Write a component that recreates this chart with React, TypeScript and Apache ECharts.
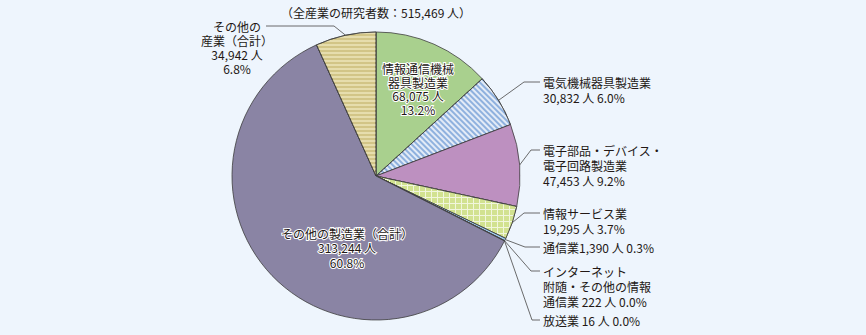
import React, { useEffect, useRef } from 'react';
import * as echarts from 'echarts';

const categories = [
  '情報通信機械器具製造業',
  '電気機械器具製造業',
  '電子部品・デバイス・電子回路製造業',
  '情報サービス業',
  '通信業',
  'インターネット附随・その他の情報通信業',
  '放送業',
  'その他の製造業（合計）',
  'その他の産業（合計）',
];
const labelNames = [
  '情報通信機械\n器具製造業',
  '電気機械器具製造業',
  '電子部品・デバイス・\n電子回路製造業',
  '情報サービス業',
  '通信業',
  'インターネット\n附随・その他の情報\n通信業',
  '放送業',
  'その他の製造業（合計）',
  'その他の\n産業（合計）',
];
const researchers = [68075, 30832, 47453, 19295, 1390, 222, 16, 313244, 34942];
const nameSeparators = ['\n', '\n', '\n', '\n', '', ' ', ' ', '\n', '\n'];
const pctSeparators = ['\n', ' ', ' ', ' ', ' ', ' ', ' ', '\n', '\n'];

const FONT = '"Noto Sans CJK JP", "Noto Sans", sans-serif';
const TEXT = '#231815';

// label placement (layout, not data)
const labelPlace: any[] = [
  { inside: true, x: 418, y: 62, lh: 13.5 },
  { x: 543, y: 74.5, lh: 15, b: [524, 82], e: [540, 82] },
  { x: 543, y: 142.5, lh: 15, b: [531, 150], e: [540, 150] },
  { x: 543, y: 205.5, lh: 15, b: [524, 213], e: [540, 213] },
  { x: 543, y: 239.5, lh: 15, b: [525, 247], e: [540, 247] },
  { x: 543, y: 263.5, lh: 15, b: [531, 271], e: [540, 271] },
  { x: 543, y: 312.5, lh: 15, b: [532, 320], e: [540, 320] },
  { inside: true, x: 347, y: 226, lh: 14.5 },
  { x: 237, y: 19, lh: 14, align: 'center', b: [334, 26], e: [266, 26] },
];

const styles: any[] = [
  { color: '#A9D08E' },
  {
    color: '#8FB1DE',
    decal: { symbol: 'rect', symbolSize: 1, color: 'rgba(255,255,255,0.75)', dashArrayX: [1, 0], dashArrayY: [1.5, 2], rotation: Math.PI / 4 },
  },
  { color: '#BD90C0' },
  {
    color: '#F1F6DC',
    decal: { symbol: 'rect', symbolSize: 1, color: '#D2E290', dashArrayX: [5, 1], dashArrayY: [5, 1], rotation: 0 },
  },
  { color: '#9DC8EB' },
  { color: '#9DC8EB' },
  { color: '#9DC8EB' },
  { color: '#8A84A4' },
  {
    color: '#D2C587',
    decal: { symbol: 'rect', symbolSize: 1, color: 'rgba(255,250,220,0.45)', dashArrayX: [1, 0], dashArrayY: [1.5, 1.5], rotation: 0 },
  },
];

export default function App() {
  const ref = useRef<HTMLDivElement>(null);
  useEffect(() => {
    if (!ref.current) return;
    const chart = echarts.init(ref.current, null, { renderer: 'svg' });
    const total = researchers.reduce((a, b) => a + b, 0);
    const fmt = (v: number) => v.toLocaleString('en-US');
    const data = researchers.map((v, i) => {
      const pct = ((v / total) * 100).toFixed(1);
      const place = labelPlace[i];
      const text = labelNames[i] + nameSeparators[i] + fmt(v) + ' 人' + pctSeparators[i] + pct + '%';
      return {
        name: categories[i],
        value: v,
        itemStyle: { ...styles[i] },
        label: {
          formatter: text,
          lineHeight: place.lh,
          align: place.align || (place.inside ? 'center' : 'left'),
          ...(place.inside ? { textBorderColor: '#ffffff', textBorderWidth: 2 } : {}),
        },
        labelLine: { show: !place.inside },
      };
    });
    chart.setOption({
      animation: false,
      backgroundColor: '#EEF5FD',
      graphic: [
        {
          type: 'text',
          x: 376,
          y: 12,
          style: {
            text: '（全産業の研究者数：' + fmt(total) + ' 人）',
            font: '12px ' + FONT,
            fill: TEXT,
            textAlign: 'center',
            textVerticalAlign: 'middle',
          },
        },
      ],
      series: [
        {
          type: 'pie',
          center: [376, 176],
          radius: 144,
          startAngle: 90,
          clockwise: true,
          avoidLabelOverlap: false,
          itemStyle: { borderColor: '#3d3d3d', borderWidth: 0.8 },
          emphasis: { disabled: true },
          label: {
            show: true,
            position: 'outside',
            color: TEXT,
            fontSize: 12,
            fontFamily: FONT,
          },
          labelLine: { show: true, lineStyle: { color: '#5a5a5a', width: 0.9 }, length: 10, length2: 10 },
          labelLayout: (params: any) => {
            const p = labelPlace[params.dataIndex];
            if (p.inside) {
              return { x: p.x, y: p.y, align: 'center', verticalAlign: 'top' };
            }
            const pts = params.labelLinePoints;
            const start = pts ? pts[0] : p.b;
            return {
              x: p.x,
              y: p.y,
              align: p.align || 'left',
              verticalAlign: 'top',
              labelLinePoints: [start, p.b, p.e],
            };
          },
          data,
        },
      ],
    });
    return () => chart.dispose();
  }, []);
  return <div ref={ref} style={{ position: 'fixed', left: 0, top: 0, width: 866, height: 335 }} />;
}
